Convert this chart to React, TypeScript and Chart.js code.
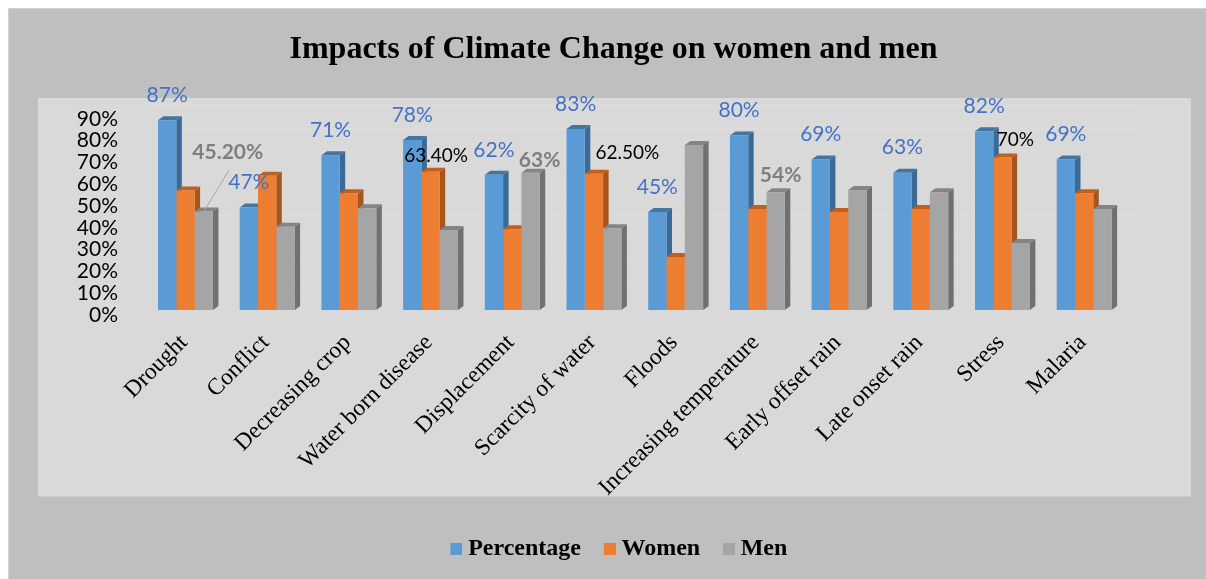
import React, { useEffect, useRef } from "react";
import { Chart, registerables } from "chart.js";

Chart.register(...registerables);

const categories = ["Drought", "Conflict", "Decreasing crop", "Water born disease", "Displacement", "Scarcity of water", "Floods", "Increasing temperature", "Early offset rain", "Late onset rain", "Stress", "Malaria"];
const percentage = [87, 47, 71, 78, 62, 83, 45, 80, 69, 63, 82, 69];
const women = [54.8, 61.6, 53.5, 63.4, 37, 62.5, 24.3, 46.3, 45, 46.3, 70, 53.5];
const men = [45.2, 38.2, 46.7, 36.7, 63, 37.5, 75.7, 54, 55, 54, 30.7, 46.3];
const yTicks = [0, 10, 20, 30, 40, 50, 60, 70, 80, 90];

const percentageLabels = ["87%", "47%", "71%", "78%", "62%", "83%", "45%", "80%", "69%", "63%", "82%", "69%"];
const extraLabels = [
  { series: 2, index: 0, text: "45.20%", kind: "grey", dx: 24, dy: -59 },
  { series: 2, index: 4, text: "63%", kind: "grey", dx: 9, dy: -12 },
  { series: 2, index: 7, text: "54%", kind: "grey", dx: 5, dy: -17 },
  { series: 1, index: 3, text: "63.40%", kind: "black", dx: 5.5, dy: -16 },
  { series: 1, index: 5, text: "62.50%", kind: "black", dx: 33.5, dy: -21 },
  { series: 1, index: 10, text: "70%", kind: "black", dx: 13, dy: -17.5 },
];

const FRONT = ["#5B9BD5", "#ED7D31", "#A5A5A5"];
const SIDE = ["#3A6A96", "#A5561F", "#707070"];
const TOP = ["#44759F", "#C05F1E", "#848484"];
const SERIF = "'Liberation Serif', serif";
const SANS = "Lato, 'Open Sans', sans-serif";
const DX = 5.5;
const DY = 4;

function swatch(color: string) {
  const c = document.createElement("canvas");
  c.width = 18;
  c.height = 12;
  const g = c.getContext("2d")!;
  g.fillStyle = color;
  g.fillRect(6, 0, 12, 12);
  return c;
}

const chrome = {
  id: "chrome",
  afterLayout(chart: any) {
    chart.titleBlock.left += 51;
    chart.titleBlock.right += 51;
    chart.legend.left += 56.5;
    chart.legend.right += 56.5;
  },
  beforeDraw(chart: any) {
    const { ctx, width, height } = chart;
    ctx.save();
    ctx.fillStyle = "#FFFFFF";
    ctx.fillRect(0, 0, width, height);
    ctx.fillStyle = "#BFBFBF";
    ctx.fillRect(8, 8, width - 8, height - 8);
    ctx.fillStyle = "#D2D2D2";
    ctx.fillRect(8, 8, width - 8, 1);
    ctx.fillRect(8, 8, 1, height - 8);
    ctx.fillStyle = "#D9D9D9";
    ctx.fillRect(38, 98, 1153, 398.5);
    ctx.restore();
  },
  beforeDatasetsDraw(chart: any) {
    const { ctx, scales, chartArea } = chart;
    ctx.save();
    // back wall grid lines and side-wall diagonals
    ctx.strokeStyle = "#DCDCDC";
    ctx.lineWidth = 1.6;
    yTicks.forEach((t) => {
      const y = scales.y.getPixelForValue(t);
      ctx.beginPath();
      ctx.moveTo(chartArea.left - 6.5, y + 5);
      ctx.lineTo(chartArea.left + 5, y - 7);
      ctx.lineTo(chartArea.right + 11, y - 7);
      ctx.stroke();
    });
    // depth faces of the bars
    categories.forEach((_, i) => {
      [0, 1, 2].forEach((s) => {
        const bar: any = chart.getDatasetMeta(s).data[i];
        const half = bar.width / 2;
        const l = bar.x - half;
        const r = bar.x + half;
        const t = bar.y;
        const b = bar.base;
        ctx.fillStyle = SIDE[s];
        ctx.beginPath();
        ctx.moveTo(r, t);
        ctx.lineTo(r + DX, t - DY);
        ctx.lineTo(r + DX, b - DY);
        ctx.lineTo(r, b);
        ctx.closePath();
        ctx.fill();
        ctx.fillStyle = TOP[s];
        ctx.beginPath();
        ctx.moveTo(l, t);
        ctx.lineTo(l + DX, t - DY);
        ctx.lineTo(r + DX, t - DY);
        ctx.lineTo(r, t);
        ctx.closePath();
        ctx.fill();
      });
    });
    ctx.restore();
  },
  afterDatasetsDraw(chart: any) {
    const { ctx } = chart;
    ctx.save();
    ctx.textAlign = "center";
    ctx.textBaseline = "middle";
    ctx.fillStyle = "#4472C4";
    ctx.font = `21px ${SANS}`;
    percentageLabels.forEach((text, i) => {
      const bar: any = chart.getDatasetMeta(0).data[i];
      ctx.fillText(text, bar.x, bar.y - 25);
    });
    extraLabels.forEach((e) => {
      const bar: any = chart.getDatasetMeta(e.series).data[e.index];
      ctx.fillStyle = e.kind === "grey" ? "#7F7F7F" : "#000000";
      ctx.font = e.kind === "grey" ? `bold 21px ${SANS}` : `19px ${SANS}`;
      ctx.fillText(e.text, bar.x + e.dx, bar.y + e.dy);
    });
    // leader line of the 45.20% label
    const lead: any = chart.getDatasetMeta(2).data[0];
    ctx.strokeStyle = "#A6A6A6";
    ctx.lineWidth = 1;
    ctx.beginPath();
    ctx.moveTo(lead.x, lead.y);
    ctx.lineTo(lead.x + 25, lead.y - 41);
    ctx.stroke();
    ctx.restore();
  },
};

export default function App() {
  const ref = useRef<HTMLCanvasElement>(null);
  useEffect(() => {
    document.body.style.margin = "0";
    const chart = new Chart(ref.current!, {
      type: "bar",
      data: {
        labels: categories,
        datasets: [
          { label: "Percentage", data: percentage, backgroundColor: FRONT[0] },
          { label: "Women", data: women, backgroundColor: FRONT[1] },
          { label: "Men", data: men, backgroundColor: FRONT[2] },
        ],
      },
      options: {
        responsive: false,
        animation: false,
        layout: { padding: { left: 0, right: 81, top: 0, bottom: 8 } },
        datasets: { bar: { categoryPercentage: 0.672, barPercentage: 1 } },
        scales: {
          x: {
            grid: { display: false, drawTicks: false },
            border: { display: false },
            afterFit(s: any) {
              s.height = 579 - 310 - s.chart.legend.height - 8;
            },
            ticks: {
              autoSkip: false,
              minRotation: 45,
              maxRotation: 45,
              padding: 19,
              labelOffset: -1.5,
              color: "#000000",
              font: { family: SERIF, size: 23.5 },
            },
          },
          y: {
            min: 0,
            max: 90,
            grid: { display: false, drawTicks: false },
            border: { display: false },
            afterFit(s: any) {
              s.width = 144.6;
            },
            afterBuildTicks(s: any) {
              s.ticks = yTicks.map((value) => ({ value }));
            },
            ticks: {
              autoSkip: false,
              padding: 26.6,
              labelOffset: 5,
              color: "#000000",
              font: { family: SANS, size: 21 },
              callback: (v: any) => `${v}%`,
            },
          },
        },
        plugins: {
          title: {
            display: true,
            text: "Impacts of Climate Change on women and men",
            color: "#000000",
            font: { family: SERIF, size: 32, weight: "bold" },
            padding: { top: 30.8, bottom: 44.6 },
          },
          legend: {
            position: "bottom",
            labels: {
              usePointStyle: true,
              boxWidth: 5.5,
              boxHeight: 12,
              padding: 23,
              color: "#000000",
              font: { family: SERIF, size: 24, weight: "bold" },
              generateLabels: (c: any) =>
                c.data.datasets.map((d: any, i: number) => ({
                  text: d.label,
                  fillStyle: d.backgroundColor,
                  strokeStyle: d.backgroundColor,
                  lineWidth: 0,
                  pointStyle: swatch(d.backgroundColor),
                  datasetIndex: i,
                  fontColor: "#000000",
                })),
            },
          },
          tooltip: { enabled: false },
        },
      } as any,
      plugins: [chrome],
    });
    return () => chart.destroy();
  }, []);
  return <canvas ref={ref} width={1206} height={579} style={{ display: "block" }} />;
}
